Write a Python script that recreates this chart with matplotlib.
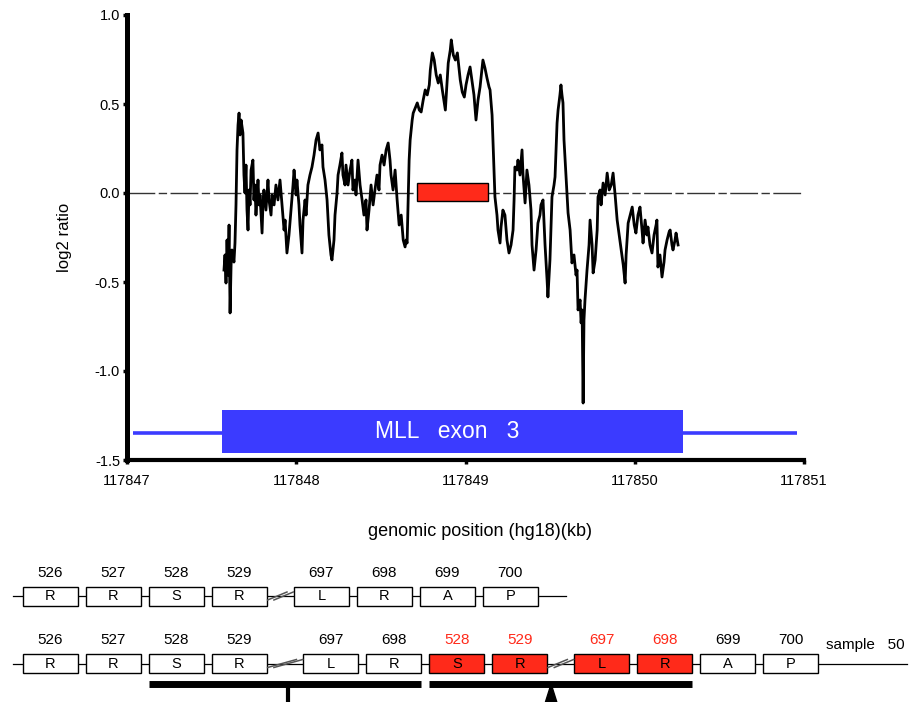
import numpy as np
import matplotlib.pyplot as plt
from matplotlib.patches import Rectangle, Polygon

plt.rcParams['font.family'] = ['Liberation Sans', 'DejaVu Sans']
plt.rcParams['axes.unicode_minus'] = False

# array CGH log2 ratio along MLL exon 3 (hg18 position, kb)
pos_kb = [
    117847.573, 117847.579, 117847.585, 117847.591, 117847.597, 117847.603, 117847.609, 117847.615,
    117847.620, 117847.632, 117847.638, 117847.644, 117847.650, 117847.656, 117847.662, 117847.668,
    117847.674, 117847.685, 117847.691, 117847.697, 117847.703, 117847.709, 117847.715, 117847.721,
    117847.727, 117847.733, 117847.744, 117847.750, 117847.756, 117847.762, 117847.774, 117847.780,
    117847.786, 117847.798, 117847.804, 117847.809, 117847.821, 117847.833, 117847.839, 117847.851,
    117847.857, 117847.869, 117847.880, 117847.892, 117847.904, 117847.916, 117847.928, 117847.934,
    117847.945, 117847.957, 117847.969, 117847.981, 117847.987, 117847.999, 117848.004, 117848.016,
    117848.022, 117848.034, 117848.040, 117848.052, 117848.058, 117848.069, 117848.081, 117848.093,
    117848.105, 117848.117, 117848.129, 117848.140, 117848.152, 117848.158,
    117848.170, 117848.182, 117848.193, 117848.205, 117848.211, 117848.223, 117848.229, 117848.241,
    117848.247, 117848.258, 117848.270, 117848.276, 117848.288, 117848.294, 117848.306, 117848.318,
    117848.329, 117848.335, 117848.347, 117848.353, 117848.365, 117848.377, 117848.389, 117848.400,
    117848.412, 117848.418, 117848.430, 117848.442, 117848.454, 117848.465, 117848.477, 117848.489,
    117848.495, 117848.507, 117848.519, 117848.531, 117848.543, 117848.554, 117848.560, 117848.572,
    117848.584, 117848.596, 117848.608, 117848.620, 117848.632, 117848.643, 117848.649, 117848.655,
    117848.661, 117848.667, 117848.673, 117848.685, 117848.691, 117848.703, 117848.715, 117848.727,
    117848.738, 117848.750, 117848.762, 117848.774, 117848.786, 117848.792, 117848.804, 117848.815,
    117848.827, 117848.839, 117848.851, 117848.863, 117848.875, 117848.881, 117848.892, 117848.898,
    117848.910, 117848.916, 117848.928, 117848.940, 117848.952, 117848.963, 117848.969, 117848.981,
    117848.993, 117849.003, 117849.015, 117849.027, 117849.038, 117849.050, 117849.062, 117849.074,
    117849.086, 117849.097, 117849.103, 117849.115, 117849.127, 117849.139, 117849.145, 117849.157,
    117849.162, 117849.168, 117849.174, 117849.186, 117849.192, 117849.204, 117849.210, 117849.221,
    117849.233, 117849.245, 117849.257, 117849.269, 117849.281, 117849.287, 117849.292, 117849.304,
    117849.310, 117849.322, 117849.334, 117849.340, 117849.352, 117849.363, 117849.375, 117849.387,
    117849.393, 117849.405, 117849.417, 117849.428, 117849.440, 117849.446, 117849.458, 117849.470,
    117849.482, 117849.487, 117849.499, 117849.511, 117849.523, 117849.529, 117849.535, 117849.541,
    117849.547, 117849.558, 117849.564, 117849.570, 117849.576, 117849.582, 117849.594, 117849.606,
    117849.618, 117849.629, 117849.641, 117849.653, 117849.659, 117849.665, 117849.677, 117849.683,
    117849.689, 117849.695, 117849.700, 117849.706, 117849.718, 117849.730, 117849.736, 117849.748,
    117849.754, 117849.766, 117849.778, 117849.783, 117849.795, 117849.801, 117849.813, 117849.825,
    117849.837, 117849.849, 117849.861, 117849.872, 117849.884, 117849.896, 117849.908, 117849.920,
    117849.932, 117849.943, 117849.949, 117849.961, 117849.973, 117849.985, 117849.997, 117850.007,
    117850.019, 117850.031, 117850.043, 117850.049, 117850.061, 117850.072, 117850.078, 117850.090,
    117850.102, 117850.114, 117850.126, 117850.131, 117850.137, 117850.149, 117850.161, 117850.173,
    117850.179, 117850.191, 117850.203, 117850.209, 117850.220, 117850.226, 117850.238, 117850.244,
    117850.256,
]
log2_ratio = [
    -0.433, -0.348, -0.506, -0.264, -0.461, -0.180, -0.674, -0.404,
    -0.320, -0.388, -0.281, -0.067, 0.242, 0.382, 0.449, 0.326,
    0.410, 0.337, 0.101, 0.000, 0.157, -0.096, -0.208, 0.017,
    -0.067, 0.129, 0.185, -0.039, 0.045, -0.124, 0.073, -0.067,
    -0.011, -0.225, -0.039, 0.017, -0.096, 0.073, -0.039, -0.124,
    -0.011, -0.067, 0.045, -0.039, 0.073, -0.067, -0.208, -0.152,
    -0.337, -0.236, -0.096, 0.045, 0.129, -0.011, 0.073, -0.067,
    -0.180, -0.337, -0.152, -0.039, -0.124, 0.045, 0.101, 0.146,
    0.213, 0.298, 0.337, 0.242, 0.270, 0.146,
    0.073, -0.039, -0.236, -0.348, -0.376, -0.264, -0.124, 0.000,
    0.101, 0.157, 0.225, 0.101, 0.045, 0.157, 0.045, 0.129,
    0.185, 0.017, 0.073, -0.011, 0.185, 0.045, -0.039, -0.124,
    -0.039, -0.208, -0.096, 0.045, -0.067, 0.017, 0.101, 0.017,
    0.157, 0.213, 0.157, 0.242, 0.281, 0.185, 0.101, 0.017,
    0.129, -0.039, -0.180, -0.124, -0.264, -0.303, -0.264, -0.281,
    -0.039, 0.185, 0.298, 0.410, 0.449, 0.478, 0.506, 0.466,
    0.455, 0.522, 0.579, 0.551, 0.607, 0.691, 0.787, 0.747,
    0.663, 0.618, 0.663, 0.579, 0.506, 0.466, 0.635, 0.730,
    0.803, 0.860, 0.775, 0.747, 0.787, 0.691, 0.635, 0.567,
    0.539, 0.607, 0.663, 0.708, 0.635, 0.551, 0.410, 0.522,
    0.596, 0.691, 0.747, 0.702, 0.646, 0.596, 0.579, 0.438,
    0.298, 0.129, -0.022, -0.124, -0.208, -0.281, -0.191, -0.096,
    -0.124, -0.264, -0.337, -0.292, -0.208, -0.039, 0.146, 0.129,
    0.185, 0.101, 0.242, 0.101, -0.056, 0.129, 0.045, -0.096,
    -0.292, -0.433, -0.320, -0.169, -0.124, -0.067, -0.039, -0.292,
    -0.489, -0.584, -0.376, -0.022, 0.045, 0.090, 0.242, 0.393,
    0.466, 0.551, 0.607, 0.551, 0.506, 0.298, 0.090, -0.112,
    -0.208, -0.393, -0.348, -0.461, -0.433, -0.657, -0.601, -0.730,
    -0.657, -1.180, -0.713, -0.601, -0.433, -0.292, -0.152, -0.292,
    -0.449, -0.376, -0.208, -0.022, 0.017, -0.067, 0.056, -0.011,
    0.112, 0.017, 0.045, 0.112, -0.011, -0.152, -0.236, -0.320,
    -0.404, -0.506, -0.348, -0.169, -0.124, -0.079, -0.180, -0.225,
    -0.124, -0.079, -0.208, -0.281, -0.152, -0.236, -0.191, -0.292,
    -0.337, -0.236, -0.180, -0.152, -0.416, -0.348, -0.472, -0.388,
    -0.320, -0.264, -0.219, -0.208, -0.292, -0.320, -0.264, -0.225,
    -0.292,
]

# gene model and the duplicated segment
gene_span = (117847.035, 117850.959)
exon_span = (117847.561, 117850.285)
gene_level = -1.35
exon_bottom, exon_top = -1.461, -1.219
dup_span = (117848.713, 117849.133)
dup_bottom, dup_top = -0.045, 0.055

x_ticks = [117847, 117848, 117849, 117850, 117851]
y_ticks = [-1.5, -1.0, -0.5, 0.0, 0.5, 1.0]

# codon rows: wild type and sample 50 (partial tandem duplication)
wt_codons = ['526', '527', '528', '529', '697', '698', '699', '700']
wt_aa = ['R', 'R', 'S', 'R', 'L', 'R', 'A', 'P']
wt_breaks = [3]
ptd_codons = ['526', '527', '528', '529', '697', '698', '528', '529',
              '697', '698', '699', '700']
ptd_aa = ['R', 'R', 'S', 'R', 'L', 'R', 'S', 'R', 'L', 'R', 'A', 'P']
ptd_dup = [False] * 6 + [True] * 4 + [False] * 2
ptd_breaks = [3, 7]
sample_name = 'sample   50'

BLUE = '#3b3bff'
RED = '#ff2a1a'

fig = plt.figure(figsize=(9.12, 7.02), dpi=100)

# ---- log2 ratio panel ----
ax = fig.add_axes([127 / 912, 1 - 460 / 702, 677 / 912, 445 / 702])
ax.axhline(0, color='#333333', lw=1.0, dashes=(20, 2.5, 6, 2.5), zorder=1)
ax.plot(pos_kb, log2_ratio, color='black', lw=2.0, zorder=3)
ax.add_patch(Rectangle((dup_span[0], dup_bottom), dup_span[1] - dup_span[0],
                       dup_top - dup_bottom, fc=RED, ec='black', lw=1.0, zorder=4))

ax.plot(gene_span, [gene_level, gene_level], color=BLUE, lw=2.6, zorder=2,
        solid_capstyle='butt')
ax.add_patch(Rectangle((exon_span[0], exon_bottom), exon_span[1] - exon_span[0],
                       exon_top - exon_bottom, fc=BLUE, ec='none', zorder=2))
ax.text(sum(exon_span) / 2 - 0.03, (exon_bottom + exon_top) / 2, 'MLL   exon   3',
        color='white', fontsize=16.5, ha='center', va='center', zorder=5)

ax.set_xlim(x_ticks[0], x_ticks[-1])
ax.set_ylim(y_ticks[0], y_ticks[-1])
ax.set_xticks(x_ticks)
ax.set_xticklabels([str(t) for t in x_ticks])
ax.set_yticks(y_ticks)
ax.set_yticklabels(['%.1f' % t for t in y_ticks])
for side in ('top', 'right'):
    ax.spines[side].set_visible(False)
ax.spines['left'].set_linewidth(3.6)
ax.spines['bottom'].set_linewidth(3.0)
ax.tick_params(axis='both', direction='out', length=3, width=2.5, labelsize=10.5)
ax.tick_params(axis='y', pad=2)
ax.tick_params(axis='x', pad=7)

ax.set_ylabel('log2 ratio', fontsize=12)
ax.yaxis.set_label_coords(-0.081, 0.5)
ax.set_xlabel('genomic position (hg18)(kb)', fontsize=13, va='top')
ax.xaxis.set_label_coords(0.521, -0.142)

# ---- codon diagram ----
dg = fig.add_axes([0, 0, 1, 152 / 702])
dg.set_xlim(-23 / 63, 889 / 63)
dg.set_ylim(152, 0)
dg.axis('off')

box_w = 0.873
box_h = 19
line_start = -0.16


def slot_positions(n, breaks, gaps):
    xs, shift = [], 0.0
    for i in range(n):
        xs.append(i + shift)
        if i in breaks:
            shift += gaps[breaks.index(i)]
    return xs


def draw_row(xs, codons, aa, yc, line_end, breaks, dup=None):
    dg.plot([line_start, line_end], [yc, yc], color='black', lw=0.9, zorder=1)
    for i, (x, c, a) in enumerate(zip(xs, codons, aa)):
        red = dup is not None and dup[i]
        dg.add_patch(Rectangle((x, yc - box_h / 2), box_w, box_h,
                               fc=RED if red else 'white', ec='black', lw=1.0, zorder=2))
        dg.text(x + box_w / 2, yc, a, fontsize=10.5, ha='center', va='center', zorder=3)
        dg.text(x + box_w / 2, yc - 23, c, fontsize=11, ha='center', va='center',
                color=RED if red else 'black')
    # "//" break marks between the non-adjacent codons
    for b in breaks:
        g0, g1 = xs[b] + box_w, xs[b + 1]
        for off in (-0.05, 0.05):
            dg.plot([g0 + 0.06 + off, g1 - 0.06 + off], [yc + 4, yc - 4],
                    color='#555555', lw=1.1, zorder=3)


row1_x = slot_positions(len(wt_codons), wt_breaks, [0.30])
draw_row(row1_x, wt_codons, wt_aa, 46, 8.62, wt_breaks)

row2_x = slot_positions(len(ptd_codons), ptd_breaks, [0.45, 0.30])
draw_row(row2_x, ptd_codons, ptd_aa, 113.5, 14.03, ptd_breaks, ptd_dup)
dg.text(row2_x[-1] + box_w + 0.13, 95, sample_name, fontsize=11, ha='left', va='center')

# bars under the wild-type copy and the duplicated copy
left_bar = (row2_x[2], row2_x[5] + box_w)
right_bar = (row2_x[6], row2_x[9] + box_w)
for x0, x1 in (left_bar, right_bar):
    dg.plot([x0, x1], [134, 134], color='black', lw=5, solid_capstyle='butt')
mid_left = sum(left_bar) / 2 + 0.05
dg.plot([mid_left, mid_left], [134, 152], color='black', lw=3, solid_capstyle='butt')
tri_x = row2_x[7] + box_w + 0.06
dg.add_patch(Polygon([[tri_x - 0.09, 152], [tri_x + 0.09, 152], [tri_x, 134]],
                     closed=True, fc='black', ec='black'))

fig.savefig('out.png', dpi=100)
